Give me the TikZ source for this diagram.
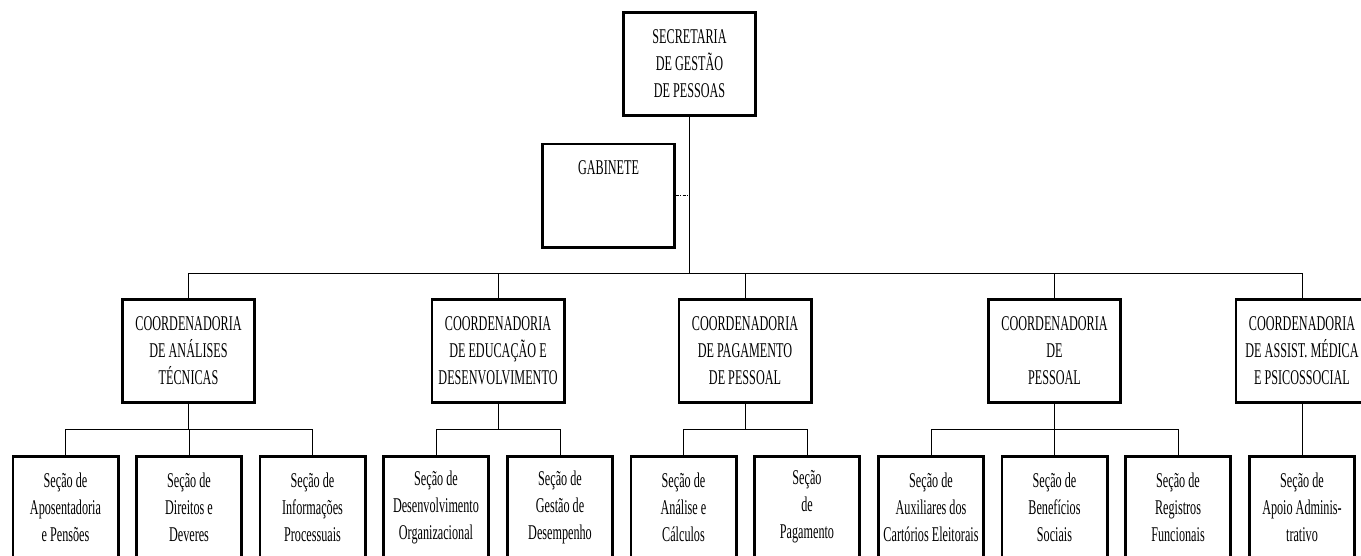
\documentclass[tikz,border=0pt]{standalone}
\usepackage{fontspec}
\setmainfont{Liberation Serif}[FakeStretch=0.58]
\begin{document}
\begin{tikzpicture}[x=1pt,y=-1pt,
  boxbig/.style={draw, line width=2.8pt, minimum width=132.2pt, minimum height=103.2pt, inner sep=0pt},
  boxsmall/.style={draw, line width=2.8pt, minimum width=105.2pt, minimum height=160pt, inner sep=0pt, anchor=north},
  txt/.style={align=center, font=\fontsize{21}{27}\selectfont, inner sep=0pt},
  conn/.style={line width=1pt},
  dashdotline/.style={line width=1.6pt, dash pattern=on 3pt off 1.2pt on 1.2pt off 1.2pt}]
\useasboundingbox (0,0) rectangle (1361,555);

% top
\node[boxbig] (top) at (689.5,64) {};
\node[txt] (topt) at (689.5,63.5) {SECRETARIA\\DE GESTÃO\\DE PESSOAS};

% gabinete
\node[boxbig] (gab) at (608.5,195.5) {};
\node[txt] (gabt) at (608.5,168) {GABINETE};
\coordinate (gj) at (689.5,195.5);
\draw[dashdotline] (gab.east) -- (gj);

% coordenadorias
\node[boxbig] (c1) at (188.5,351) {};
\node[txt] (c1t) at (188.5,351) {COORDENADORIA\\DE ANÁLISES\\TÉCNICAS};
\node[boxbig] (c2) at (498,351) {};
\node[txt] (c2t) at (498,351) {COORDENADORIA\\DE EDUCAÇÃO E\\DESENVOLVIMENTO};
\node[boxbig] (c3) at (745,351) {};
\node[txt] (c3t) at (745,351) {COORDENADORIA\\DE PAGAMENTO\\DE PESSOAL};
\node[boxbig] (c4) at (1054.5,351) {};
\node[txt] (c4t) at (1054.5,351) {COORDENADORIA\\DE\\PESSOAL};
\node[boxbig] (c5) at (1302,351) {};
\node[txt] (c5t) at (1302,351) {COORDENADORIA\\DE ASSIST. MÉDICA\\E PSICOSSOCIAL};

% secoes
\node[boxsmall] (s1) at (65.5,455.3) {};
\node[txt] (s1t) at (65.5,507) {Seção de\\Aposentadoria\\e Pensões};
\node[boxsmall] (s2) at (189,455.3) {};
\node[txt] (s2t) at (189,507) {Seção de\\Direitos e\\Deveres};
\node[boxsmall] (s3) at (312.5,455.3) {};
\node[txt] (s3t) at (312.5,507) {Seção de\\Informações\\Processuais};
\node[boxsmall] (s4) at (436,455.3) {};
\node[txt] (s4t) at (436,507) {Seção de\\Desenvolvimento\\Organizacional};
\node[boxsmall] (s5) at (560,455.3) {};
\node[txt] (s5t) at (560,507) {Seção de\\Gestão de\\Desempenho};
\node[boxsmall] (s6) at (683.5,455.3) {};
\node[txt] (s6t) at (683.5,507) {Seção de\\Análise e\\Cálculos};
\node[boxsmall] (s7) at (807,455.3) {};
\node[txt] (s7t) at (807,507) {Seção\\de\\Pagamento};
\node[boxsmall] (s8) at (931,455.3) {};
\node[txt] (s8t) at (931,507) {Seção de\\Auxiliares dos\\Cartórios Eleitorais};
\node[boxsmall] (s9) at (1054.5,455.3) {};
\node[txt] (s9t) at (1054.5,507) {Seção de\\Benefícios\\Sociais};
\node[boxsmall] (s10) at (1178,455.3) {};
\node[txt] (s10t) at (1178,507) {Seção de\\Registros\\Funcionais};
\node[boxsmall] (s11) at (1302,455.3) {};
\node[txt] (s11t) at (1302,507) {Seção de\\Apoio Adminis-\\trativo};

% main bus
\coordinate (tb) at (689.5,273);
\draw[conn] (top.south) -- (tb);
\foreach \c in {c1,c2,c3,c4,c5} \draw[conn] (tb) -| (\c.north);

% sub buses
\coordinate (b1) at (188.5,429);
\coordinate (b2) at (498,429);
\coordinate (b3) at (745,429);
\coordinate (b4) at (1054.5,429);
\coordinate (b5) at (1302,429);
\draw[conn] (c1.south) -- (b1);
\foreach \s in {s1,s2,s3} \draw[conn] (b1) -| (\s.north);
\draw[conn] (c2.south) -- (b2);
\foreach \s in {s4,s5} \draw[conn] (b2) -| (\s.north);
\draw[conn] (c3.south) -- (b3);
\foreach \s in {s6,s7} \draw[conn] (b3) -| (\s.north);
\draw[conn] (c4.south) -- (b4);
\foreach \s in {s8,s9,s10} \draw[conn] (b4) -| (\s.north);
\draw[conn] (c5.south) -- (b5) -- (s11.north);
\end{tikzpicture}
\end{document}
